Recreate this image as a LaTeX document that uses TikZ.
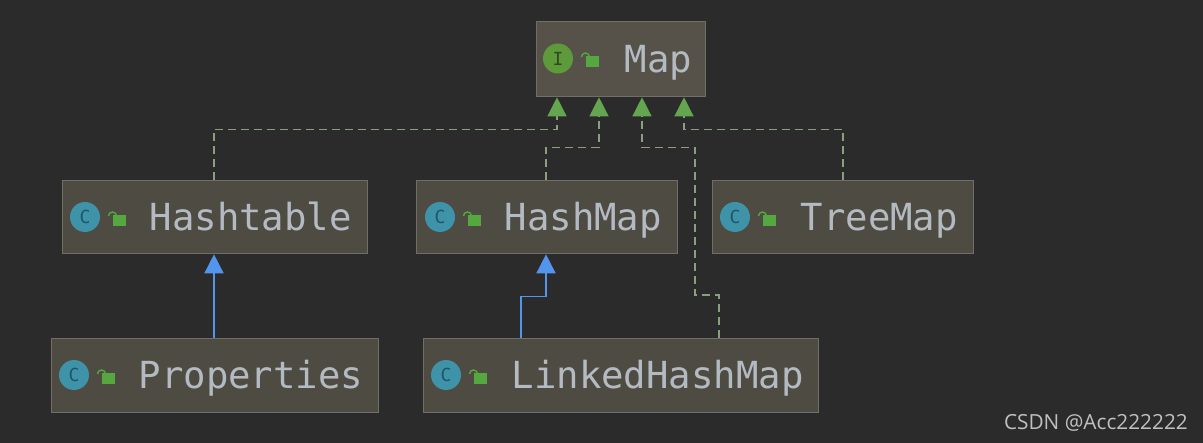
\documentclass[tikz,border=0pt]{standalone}
\usepackage{fontspec}
\setmainfont{Open Sans}
\newfontfamily\codefont{DejaVu Sans Mono}
\usetikzlibrary{arrows.meta}
\definecolor{bgc}{HTML}{2B2B2B}
\definecolor{boxfill}{HTML}{4E4B42}
\definecolor{mapfill}{HTML}{565249}
\definecolor{boxline}{HTML}{6F6F68}
\definecolor{labelc}{HTML}{B4BAC2}
\definecolor{implc}{HTML}{8A9F7E}
\definecolor{tipgreen}{HTML}{64A550}
\definecolor{extc}{HTML}{5394EC}
\definecolor{teal}{HTML}{3F93A8}
\definecolor{tealdark}{HTML}{1F5568}
\definecolor{ifgreen}{HTML}{5F9A3A}
\definecolor{ifdark}{HTML}{2D4A22}
\definecolor{lockc}{HTML}{55A83F}
\definecolor{markc}{HTML}{C0C0C0}
\tikzset{
  umlbox/.style={draw=boxline,fill=boxfill,line width=1.3pt,inner sep=0pt,anchor=north west,
    text=labelc,font=\codefont\fontsize{37.3}{37.3}\selectfont,text height=32pt,text depth=6pt},
  kindicon/.style={circle,inner sep=0pt,minimum size=30pt,font=\codefont\fontsize{18}{18}\selectfont},
  implline/.style={draw=implc,line width=1.3pt,dash pattern=on 8pt off 5pt,
    -{Triangle[width=19pt,length=19pt,fill=tipgreen,color=tipgreen]}},
  extline/.style={draw=extc,line width=1.5pt,
    -{Triangle[width=19pt,length=19pt,fill=extc,color=extc]}},
  lockbody/.style={fill=lockc,draw=none},
  lockarc/.style={draw=lockc,line width=1.4pt},
}
\newcommand{\lockicon}[2]{%
  \fill[lockbody] (#1+28,#2-2) rectangle (#1+41,#2+9);
  \draw[lockarc] (#1+23.5,#2-1) arc[start angle=180,end angle=0,radius=4pt] -- ++(0,1);
}
\begin{document}
\begin{tikzpicture}[x=1pt,y=-1pt]
\useasboundingbox[fill=bgc] (0,0) rectangle (1203,443);

% boxes
\node[umlbox,fill=mapfill,minimum width=169pt,minimum height=75pt] (map) at (536,21)
  {\makebox[169pt][l]{\hspace{88pt}Map}};
\node[umlbox,minimum width=305pt,minimum height=73pt] (ht) at (62,180)
  {\makebox[305pt][l]{\hspace{87pt}Hashtable}};
\node[umlbox,minimum width=261pt,minimum height=73pt] (hm) at (416,180)
  {\makebox[261pt][l]{\hspace{88pt}HashMap}};
\node[umlbox,minimum width=261pt,minimum height=73pt] (tm) at (712,180)
  {\makebox[261pt][l]{\hspace{88pt}TreeMap}};
\node[umlbox,minimum width=327pt,minimum height=74pt] (pr) at (51,338)
  {\makebox[327pt][l]{\hspace{87pt}Properties}};
\node[umlbox,minimum width=395pt,minimum height=74pt] (lh) at (423,338)
  {\makebox[395pt][l]{\hspace{88pt}LinkedHashMap}};

% icons
\node[kindicon,fill=ifgreen,text=ifdark] (imap) at (558,58.5) {I};
\lockicon{558}{58}
\node[kindicon,fill=teal,text=tealdark] (iht) at (85,217) {C};
\lockicon{85}{217}
\node[kindicon,fill=teal,text=tealdark] (ihm) at (440,217) {C};
\lockicon{440}{217}
\node[kindicon,fill=teal,text=tealdark] (itm) at (735,217) {C};
\lockicon{735}{217}
\node[kindicon,fill=teal,text=tealdark] (ipr) at (74,375) {C};
\lockicon{74}{375}
\node[kindicon,fill=teal,text=tealdark] (ilh) at (446,375) {C};
\lockicon{446}{375}

% connectors: implements
\draw[implline] ([xshift=152pt]ht.north west) |- ([xshift=21pt,yshift=-32pt]map.south west) -- ([xshift=21pt]map.south west);
\draw[implline] ([xshift=130pt]hm.north west) |- ([xshift=63pt,yshift=-50pt]map.south west) -- ([xshift=63pt]map.south west);
\coordinate (lbend) at (695,295);
\draw[implline] ([xshift=296pt]lh.north west) |- (lbend) |- ([xshift=106pt,yshift=-50pt]map.south west) -- ([xshift=106pt]map.south west);
\draw[implline] ([xshift=131pt]tm.north west) |- ([xshift=148pt,yshift=-32pt]map.south west) -- ([xshift=148pt]map.south west);

% connectors: extends
\draw[extline] ([xshift=163pt]pr.north west) -- ([xshift=152pt]ht.south west);
\draw[extline] ([xshift=98pt]lh.north west) |- ([xshift=130pt,yshift=-42pt]hm.south west) -- ([xshift=130pt]hm.south west);

% watermark
\node[anchor=base east,inner sep=0pt,text=markc,font=\fontsize{20.8}{20.8}\selectfont] (mark) at (1188,430) {CSDN @Acc222222};
\end{tikzpicture}
\end{document}
